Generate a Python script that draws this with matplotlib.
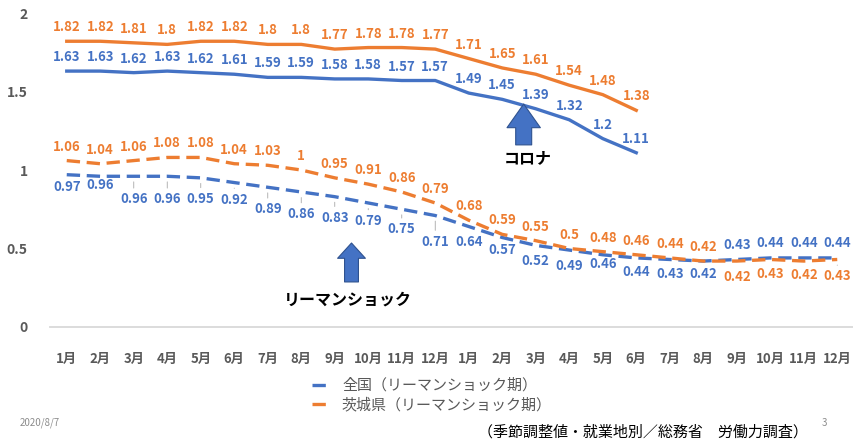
import matplotlib.pyplot as plt
import numpy as np

plt.rcParams['font.family'] = ['Noto Sans CJK JP', 'DejaVu Sans']

# 有効求人倍率
months = [f"{m}月" for m in range(1, 13)] * 2
lehman_all = [0.97, 0.96, 0.96, 0.96, 0.95, 0.92, 0.89, 0.86, 0.83, 0.79, 0.75, 0.71,
              0.64, 0.57, 0.52, 0.49, 0.46, 0.44, 0.43, 0.42, 0.43, 0.44, 0.44, 0.44]
lehman_ibaraki = [1.06, 1.04, 1.06, 1.08, 1.08, 1.04, 1.03, 1, 0.95, 0.91, 0.86, 0.79,
                  0.68, 0.59, 0.55, 0.5, 0.48, 0.46, 0.44, 0.42, 0.42, 0.43, 0.42, 0.43]
corona_all = [1.63, 1.63, 1.62, 1.63, 1.62, 1.61, 1.59, 1.59, 1.58, 1.58, 1.57, 1.57,
              1.49, 1.45, 1.39, 1.32, 1.2, 1.11]
corona_ibaraki = [1.82, 1.82, 1.81, 1.8, 1.82, 1.82, 1.8, 1.8, 1.77, 1.78, 1.78, 1.77,
                  1.71, 1.65, 1.61, 1.54, 1.48, 1.38]
yticks = [0, 0.5, 1, 1.5, 2]

BLUE = '#4472C4'
ORANGE = '#ED7D31'
GREY = '#595959'

# ラベルの位置（px、正=下）
off_lehman_all = [12, 9, 23, 23, 21, 17, 22, 22, 21, 18, 20, 26,
                  15, 12, 16, 16, 9, 14, 15, 13, -14, -15, -15, -15]
off_lehman_ibaraki = [-14] * 20 + [16, 15, 14, 17]

fig = plt.figure(figsize=(8.54, 4.40), dpi=100)
ax = fig.add_axes([50 / 854, 1 - 327 / 440, 804 / 854, 314 / 440])

x = np.arange(len(months))
dash = (0, (4, 2))
l1, = ax.plot(x, lehman_all, color=BLUE, lw=2.4, linestyle=dash, label='全国（リーマンショック期）')
l2, = ax.plot(x, lehman_ibaraki, color=ORANGE, lw=2.4, linestyle=dash, label='茨城県（リーマンショック期）')
ax.plot(x[:len(corona_all)], corona_all, color=BLUE, lw=2.4)
ax.plot(x[:len(corona_ibaraki)], corona_ibaraki, color=ORANGE, lw=2.4)


def put_labels(vals, offs, color):
    for i, (v, o) in enumerate(zip(vals, offs)):
        props = None
        if abs(o) >= 17:
            props = dict(arrowstyle='-', color='#A6A6A6', lw=0.6, shrinkA=1, shrinkB=4)
        ax.annotate(f"{v:g}", (i, v), xytext=(0, -o * 0.72), textcoords='offset points',
                    ha='center', va='center', fontsize=9.5, fontweight='bold', color=color,
                    arrowprops=props)


put_labels(lehman_all, off_lehman_all, BLUE)
put_labels(lehman_ibaraki, off_lehman_ibaraki, ORANGE)
put_labels(corona_all, [-14] * len(corona_all), BLUE)
put_labels(corona_ibaraki, [-14] * len(corona_ibaraki), ORANGE)

# 矢印
ax.annotate('', xy=(13.64, 1.42), xytext=(13.64, 1.16),
            arrowprops=dict(arrowstyle='simple,head_length=1.7,head_width=2.4,tail_width=1.15',
                            mutation_scale=10, fc=BLUE, ec='#2F528F', lw=0.8,
                            shrinkA=0, shrinkB=0))
ax.text(13.76, 1.076, 'コロナ', ha='center', va='center', fontsize=11.5,
        fontweight='bold', color='black')
ax.annotate('', xy=(8.5, 0.535), xytext=(8.5, 0.287),
            arrowprops=dict(arrowstyle='simple,head_length=1.1,head_width=2.0,tail_width=1.0',
                            mutation_scale=10, fc=BLUE, ec='#2F528F', lw=0.8,
                            shrinkA=0, shrinkB=0))
ax.text(8.4, 0.172, 'リーマンショック', ha='center', va='center', fontsize=11.5,
        fontweight='bold', color='black')

ax.set_xlim(-0.5, len(months) - 0.5)
ax.set_ylim(0, 2)
ax.set_xticks(x)
ax.set_xticklabels(months, fontsize=9.5, fontweight='bold', color=GREY)
ax.set_yticks(yticks)
ax.set_yticklabels([f"{t:g}" for t in yticks], fontsize=10, fontweight='bold', color=GREY)
ax.tick_params(axis='x', length=0, pad=18)
ax.tick_params(axis='y', length=0, pad=16)
ax.axhline(0, color='#D9D9D9', lw=1.3, zorder=0, clip_on=False)
for s in ax.spines.values():
    s.set_visible(False)

fig.legend(handles=[l1, l2], loc='upper center', bbox_to_anchor=(432 / 854, 1 - 371 / 440),
           frameon=False, fontsize=10.8, labelcolor=GREY, handlelength=1.0,
           labelspacing=0.3, handletextpad=1.0, borderpad=0)

fig.text(20 / 854, 1 - 423 / 440, '2020/8/7', fontsize=7, color='#8C8C8C', va='center')
fig.text(822 / 854, 1 - 423 / 440, '3', fontsize=7, color='#8C8C8C', va='center')
fig.text(643 / 854, 1 - 432 / 440, '（季節調整値・就業地別／総務省　労働力調査）', ha='center',
         va='center', fontsize=10.8, color='black')

fig.savefig('out.png', dpi=100)
